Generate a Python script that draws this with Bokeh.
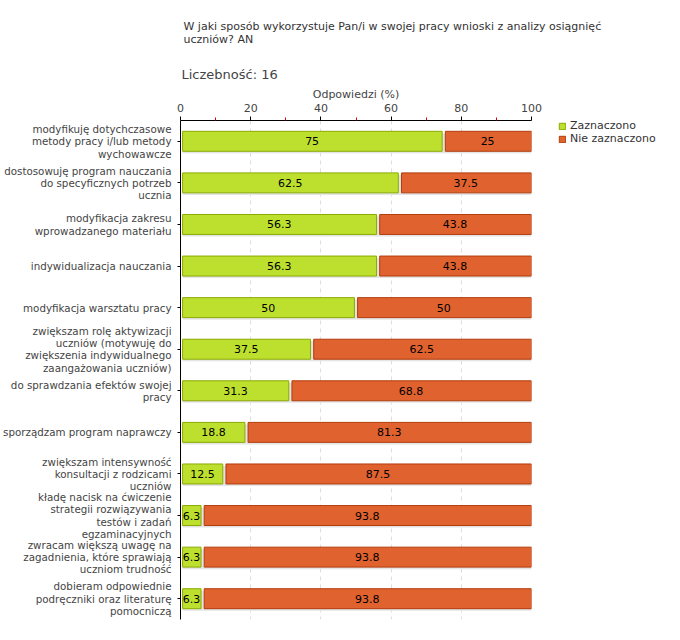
from bokeh.plotting import figure
from bokeh.models import (Range1d, FixedTicker, Title, Legend, LegendItem,
                          ColumnDataSource, LabelSet)
from bokeh.core.properties import value
from bokeh.embed import file_html
from bokeh.resources import INLINE

categories = [
    "modyfikuję dotychczasowe\nmetody pracy i/lub metody\nwychowawcze",
    "dostosowuję program nauczania\ndo specyficznych potrzeb\nucznia",
    "modyfikacja zakresu\nwprowadzanego materiału",
    "indywidualizacja nauczania",
    "modyfikacja warsztatu pracy",
    "zwiększam rolę aktywizacji\nuczniów (motywuję do\nzwiększenia indywidualnego\nzaangażowania uczniów)",
    "do sprawdzania efektów swojej\npracy",
    "sporządzam program naprawczy",
    "zwiększam intensywność\nkonsultacji z rodzicami\nuczniów",
    "kładę nacisk na ćwiczenie\nstrategii rozwiązywania\ntestów i zadań\negzaminacyjnych",
    "zwracam większą uwagę na\nzagadnienia, które sprawiają\nuczniom trudność",
    "dobieram odpowiednie\npodręczniki oraz literaturę\npomocniczą",
]
zaznaczono = [75, 62.5, 56.3, 56.3, 50, 37.5, 31.3, 18.8, 12.5, 6.3, 6.3, 6.3]
nie_zaznaczono = [25, 37.5, 43.8, 43.8, 50, 62.5, 68.8, 81.3, 87.5, 93.8, 93.8, 93.8]
series_names = ["Zaznaczono", "Nie zaznaczono"]
x_ticks = [0, 20, 40, 60, 80, 100]
x_minor_ticks = [10, 30, 50, 70, 90]
title_text = "W jaki sposób wykorzystuje Pan/i w swojej pracy wnioski z analizy osiągnięć\nuczniów? AN"
count_text = "Liczebność: 16"
axis_title = "Odpowiedzi (%)"

GREEN, GREEN_LINE = "#bde02e", "#8aaa00"
ORANGE, ORANGE_LINE = "#e0622f", "#b23c0c"
FONT = "DejaVu Sans"

n = len(categories)
rows = list(range(n))
gap = 0.45
total = 100
src = ColumnDataSource(dict(
    y=rows,
    shadow_y=[r + 0.05 for r in rows],
    g_left=[0.6] * n,
    g_right=[v - gap for v in zaznaczono],
    o_left=[v + gap for v in zaznaczono],
    o_right=[total] * n,
    z_mid=[v / 2 for v in zaznaczono],
    n_mid=[z + w / 2 for z, w in zip(zaznaczono, nie_zaznaczono)],
    z_txt=[f"{v:g}" for v in zaznaczono],
    n_txt=[f"{v:g}" for v in nie_zaznaczono],
))

p = figure(frame_width=351, frame_height=499,
           x_range=Range1d(0, total), y_range=Range1d(n - 0.5, -0.5),
           x_axis_location="above", output_backend="svg", toolbar_location=None,
           min_border_left=172, min_border_right=20, min_border_bottom=13,
           min_border_top=11)
p.outline_line_color = None
p.background_fill_color = "white"

p.title = Title(text=title_text, align="left", offset=3, text_font=FONT,
                text_font_size="11px", text_font_style="normal",
                text_line_height=1.0,
                text_color="#333333", standoff=34)
p.add_layout(Title(text=count_text, align="left", offset=1, text_font=FONT,
                   text_font_size="13px", text_font_style="normal",
                   text_color="#444444", standoff=5), "above")

# shadows
p.hbar(y="shadow_y", left=0.6, right="o_right", height=0.48, source=src,
       fill_color="#e4e4e4", line_color=None)
g = p.hbar(y="y", left="g_left", right="g_right", height=0.48, source=src,
           fill_color=GREEN, line_color=GREEN_LINE, line_width=1)
o = p.hbar(y="y", left="o_left", right="o_right", height=0.48, source=src,
           fill_color=ORANGE, line_color=ORANGE_LINE, line_width=1)

for xcol, tcol in (("z_mid", "z_txt"), ("n_mid", "n_txt")):
    p.add_layout(LabelSet(x=xcol, y="y", text=tcol, source=src,
                          text_align="center", text_baseline="middle",
                          text_font=value(FONT), text_font_size=value("11px"),
                          text_color="black"))

xa = p.xaxis[0]
xa.ticker = FixedTicker(ticks=x_ticks, minor_ticks=x_minor_ticks)
xa.axis_label = axis_title
xa.axis_label_text_font = FONT
xa.axis_label_text_font_size = "11px"
xa.axis_label_text_font_style = "normal"
xa.axis_label_text_color = "#444444"
xa.axis_label_standoff = 0
xa.major_label_text_font = FONT
xa.major_label_text_font_size = "11px"
xa.major_label_text_color = "#444444"
xa.major_label_standoff = 5
xa.axis_line_color = "black"
xa.major_tick_line_color = "black"
xa.major_tick_out = 4
xa.major_tick_in = 0
xa.minor_tick_line_color = "#dd0000"
xa.minor_tick_out = 3
xa.minor_tick_in = 0

ya = p.yaxis[0]
ya.ticker = FixedTicker(ticks=rows)
ya.major_label_overrides = {i: c for i, c in enumerate(categories)}
ya.major_label_text_font = FONT
ya.major_label_text_font_size = "10.3px"
ya.major_label_text_line_height = 1.03
ya.major_label_text_color = "#444444"
ya.major_label_standoff = 6
ya.axis_line_color = "black"
ya.major_tick_line_color = "black"
ya.major_tick_out = 3
ya.major_tick_in = 0
ya.minor_tick_line_color = None

p.xgrid.ticker = FixedTicker(ticks=x_ticks[1:])
p.xgrid.grid_line_color = "#dddddd"
p.xgrid.grid_line_dash = "4 4"
p.ygrid.visible = False

legend = Legend(items=[LegendItem(label=series_names[0], renderers=[g]),
                       LegendItem(label=series_names[1], renderers=[o])],
                location=(27, 474), orientation="vertical",
                padding=0, spacing=0, margin=0,
                glyph_width=8, glyph_height=8, label_height=13,
                label_standoff=4, label_text_font=FONT,
                label_text_font_size="11px", label_text_color="#333333",
                border_line_color=None, background_fill_alpha=0)
p.add_layout(legend, "right")

open("out.html", "w").write(file_html(p, INLINE))
